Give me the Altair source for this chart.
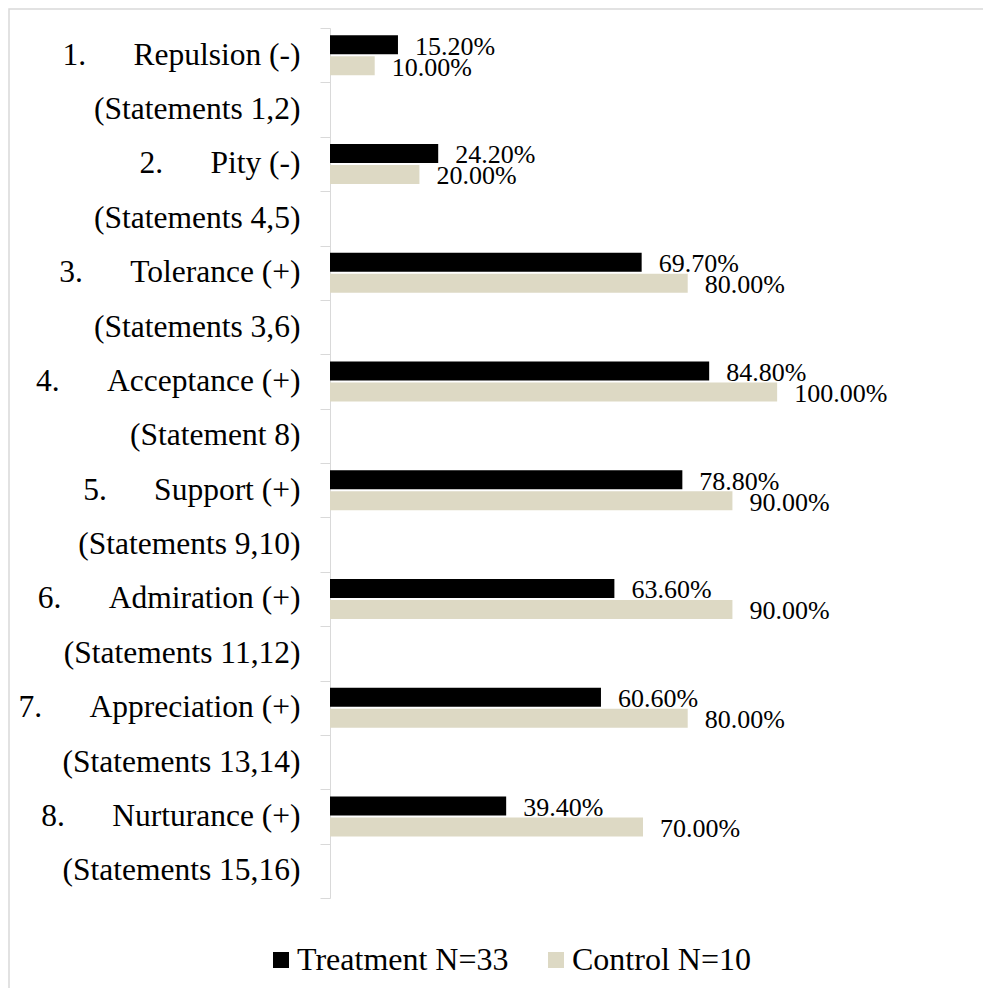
import altair as alt
import pandas as pd

names = ["Repulsion (-)", "Pity (-)", "Tolerance (+)", "Acceptance (+)",
         "Support (+)", "Admiration (+)", "Appreciation (+)", "Nurturance (+)"]
statements = ["(Statements 1,2)", "(Statements 4,5)", "(Statements 3,6)", "(Statement 8)",
              "(Statements 9,10)", "(Statements 11,12)", "(Statements 13,14)", "(Statements 15,16)"]
treatment = [15.2, 24.2, 69.7, 84.8, 78.8, 63.6, 60.6, 39.4]
control = [10.0, 20.0, 80.0, 100.0, 90.0, 90.0, 80.0, 70.0]
series = ["Treatment N=33", "Control N=10"]
colors = ["#000000", "#ddd9c4"]

main_labels = [f"{i + 1}." + "\u00a0" * 6 + n for i, n in enumerate(names)]
domain = []
for m, s in zip(main_labels, statements):
    domain += [m, s]

rows = []
for m, t, c in zip(main_labels, treatment, control):
    rows.append({"Category": m, "Series": series[0], "Value": t / 100})
    rows.append({"Category": m, "Series": series[1], "Value": c / 100})
df = pd.DataFrame(rows)

W, H = 626, 870
FONT = "Times New Roman, Liberation Serif, serif"

yenc = alt.Y("Category:N", sort=domain,
             scale=alt.Scale(domain=domain, paddingInner=0, paddingOuter=0),
             axis=alt.Axis(title=None, tickBand="extent", domainColor="#d9d9d9",
                           tickColor="#d9d9d9", tickSize=10, labelPadding=20,
                           labelFontSize=31.5, labelFont=FONT, labelColor="#000000",
                           labelLimit=400))
xscale = alt.Scale(domain=[0, 1.4], nice=False)
yoff = alt.YOffset("Series:N", sort=series,
                   scale=alt.Scale(domain=series, paddingInner=0.095, paddingOuter=0.343))

bars = alt.Chart(df).mark_bar().encode(
    x=alt.X("Value:Q", scale=xscale, axis=None),
    y=yenc,
    yOffset=yoff,
    color=alt.Color("Series:N", sort=series,
                    scale=alt.Scale(domain=series, range=colors),
                    legend=alt.Legend(title=None, orient="none", legendX=-65, legendY=916,
                                      direction="horizontal", symbolType="square",
                                      symbolSize=256, symbolStrokeWidth=0,
                                      labelFontSize=32, labelFont=FONT, labelColor="#000000",
                                      labelOffset=0, columnPadding=31, labelLimit=400)),
)

labels = alt.Chart(df).mark_text(align="left", baseline="middle", dx=17, dy=2,
                                 fontSize=26, font=FONT, color="#000000").encode(
    x=alt.X("Value:Q", scale=xscale, axis=None),
    y=yenc,
    yOffset=yoff,
    text=alt.Text("Value:Q", format=".2%"),
)

frame = alt.Chart(pd.DataFrame({"a": [0]})).mark_rect(
    fill=None, stroke="#d9d9d9", strokeWidth=1.5, clip=False).encode(
    x=alt.value(-321), x2=alt.value(W + 200), y=alt.value(-19), y2=alt.value(H + 300))

chart = alt.layer(frame, bars, labels).properties(
    width=W, height=H,
    background="#ffffff",
    autosize=alt.AutoSizeParams(type="none"),
    padding={"left": 322, "top": 20, "right": 27, "bottom": 90},
).configure_view(stroke=None)

chart.save("out.html", embed_options={"renderer": "svg", "actions": False})
